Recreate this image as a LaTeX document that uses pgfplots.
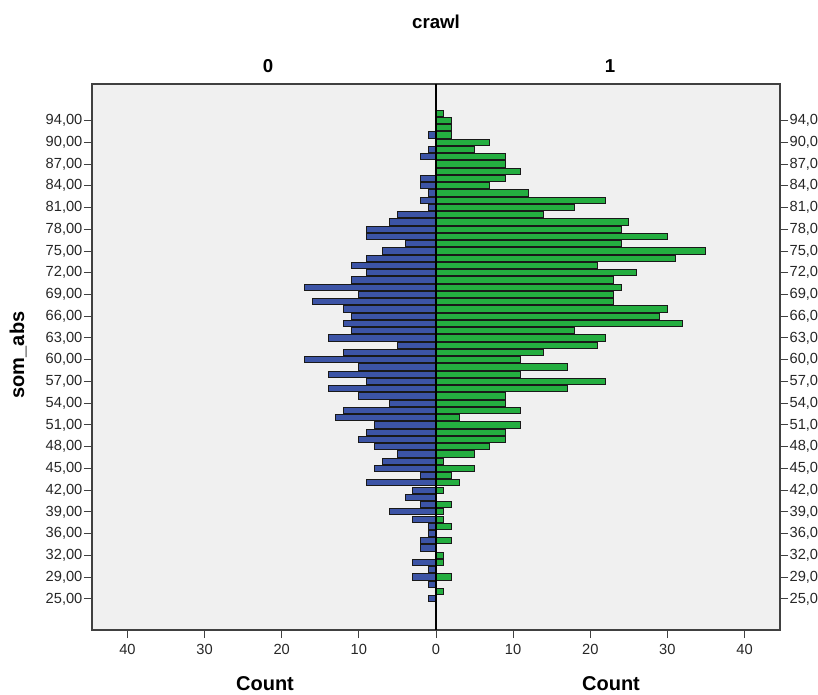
\documentclass[border=0pt]{standalone}
\usepackage{pgfplots}
\pgfplotsset{compat=1.18}
\usepackage{pgfplotstable}
\usepackage{fontspec}
\setmainfont{Liberation Sans}
\definecolor{spssblue}{RGB}{60,84,166}
\definecolor{spssgreen}{RGB}{36,174,64}
\definecolor{bgc}{RGB}{240,240,240}

% row index (0 = top), count for crawl = 0
\pgfplotstableread{
row c
3 1
5 1
6 2
9 2
10 2
11 1
12 2
13 1
14 5
15 6
16 9
17 9
18 4
19 7
20 9
21 11
22 9
23 11
24 17
25 10
26 16
27 12
28 11
29 12
30 11
31 14
32 5
33 12
34 17
35 10
36 14
37 9
38 14
39 10
40 6
41 12
42 13
43 8
44 9
45 10
46 8
47 5
48 7
49 8
50 2
51 9
52 3
53 4
54 2
55 6
56 3
57 1
58 1
59 2
60 2
62 3
63 1
64 3
65 1
67 1
}\bluetab

% row index (0 = top), count for crawl = 1
\pgfplotstableread{
row c
0 1
1 2
2 2
3 2
4 7
5 5
6 9
7 9
8 11
9 9
10 7
11 12
12 22
13 18
14 14
15 25
16 24
17 30
18 24
19 35
20 31
21 21
22 26
23 23
24 24
25 23
26 23
27 30
28 29
29 32
30 18
31 22
32 21
33 14
34 11
35 17
36 11
37 22
38 17
39 9
40 9
41 11
42 3
43 11
44 9
45 9
46 7
47 5
48 1
49 5
50 2
51 3
52 1
54 2
55 1
56 1
57 2
59 2
61 1
62 1
64 2
66 1
}\greentab

\pgfplotsset{
  common/.style={
    at={(0,0)}, anchor=south west, scale only axis,
    width=516pt, height=409.5pt,
    xmin=-44.6, xmax=44.6, ymin=-4.04, ymax=71.3, y dir=reverse,
    ytick={1,4,...,67},
    yticklabels={{94,00},{90,00},{87,00},{84,00},{81,00},{78,00},{75,00},{72,00},{69,00},{66,00},{63,00},{60,00},{57,00},{54,00},{51,00},{48,00},{45,00},{42,00},{39,00},{36,00},{32,00},{29,00},{25,00}},
    tick align=outside, major tick length=6pt,
    tick label style={font=\fontsize{11}{12}\selectfont, text=black!85},
    yticklabel style={inner xsep=1pt},
    xticklabel style={yshift=-1pt},
    /pgf/number format/assume math mode=true,
    axis line style={black!75, line width=0.8pt},
    tick style={black!75, line width=0.7pt},
  }
}

\begin{document}
\begin{tikzpicture}[x=1pt,y=1pt]
\begin{axis}[common,
  axis background/.style={fill=bgc},
  xtick={-40,-30,...,40}, xticklabels={40,30,20,10,0,10,20,30,40},
  xtick pos=bottom, ytick pos=left,
  xbar, bar width=0.86, bar shift=0pt,
]
\addplot[xbar, bar shift=0pt, fill=spssblue, draw=black!90, line width=0.75pt] table[x expr=-\thisrow{c}, y=row]{\bluetab};
\addplot[xbar, bar shift=0pt, fill=spssgreen, draw=black!90, line width=0.75pt] table[x=c, y=row]{\greentab};
\draw[black, line width=0.9pt] (axis cs:0,-4.04) -- (axis cs:0,71.3);
\end{axis}
\begin{axis}[common,
  axis x line=none, axis y line*=right,
  xtick=\empty, ytick pos=right, yticklabel pos=right,
]
\addplot[draw=none] coordinates {(0,0)};
\end{axis}

\node[font=\bfseries\fontsize{14}{16}\selectfont] at (258,456) {crawl};
\node[font=\bfseries\fontsize{14}{16}\selectfont] at (132,423) {0};
\node[font=\bfseries\fontsize{14}{16}\selectfont] at (388.5,423) {1};
\node[font=\bfseries\fontsize{15}{17}\selectfont] at (129.75,-40.5) {Count};
\node[font=\bfseries\fontsize{15}{17}\selectfont] at (389.25,-40.5) {Count};
\node[font=\bfseries\fontsize{15}{17}\selectfont, rotate=90] at (-55.5,206.25) {som\_abs};

\pgfresetboundingbox
\path[use as bounding box] (-69pt,-48.75pt) rectangle (544.5pt,472.5pt);
\end{tikzpicture}
\end{document}
